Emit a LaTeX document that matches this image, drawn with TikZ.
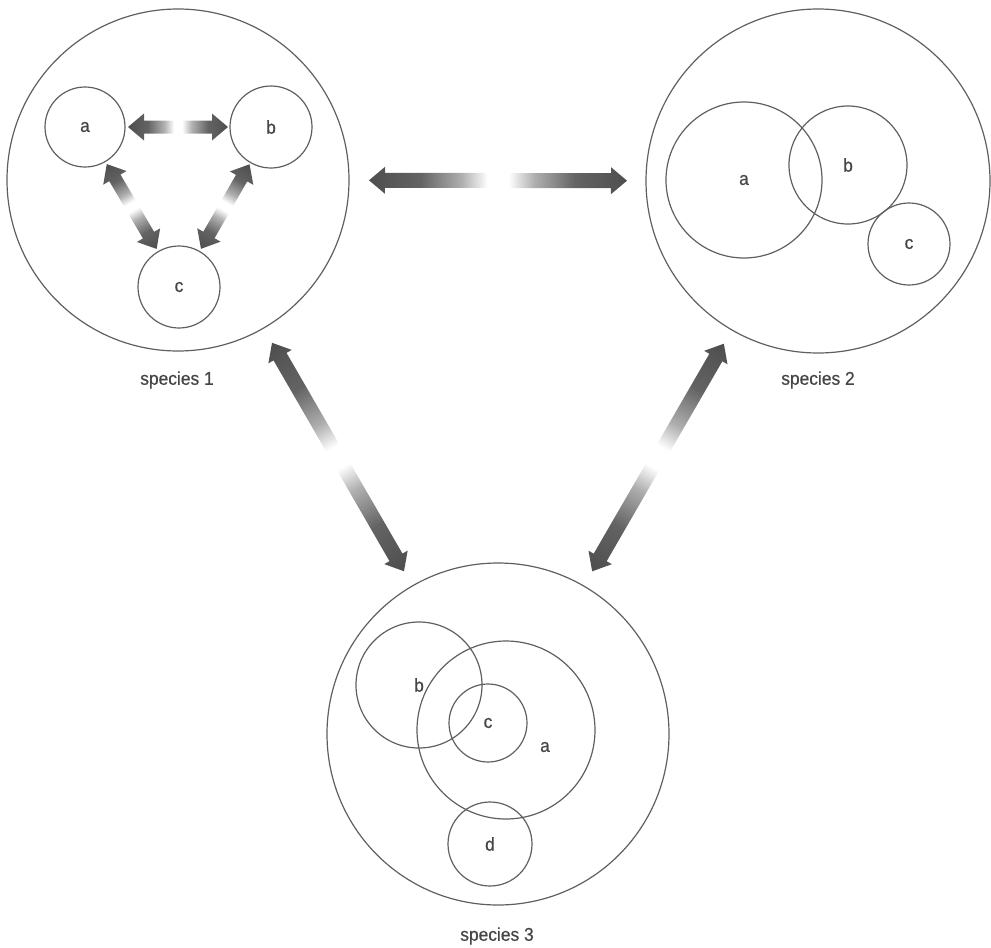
\documentclass[tikz,border=0pt]{standalone}
\usepackage{fontspec}
\setmainfont{Liberation Sans}[FakeBold=0.6,FakeStretch=0.94]
\usetikzlibrary{calc}
\definecolor{adark}{RGB}{78,78,78}
\definecolor{lc}{RGB}{95,95,95}
\definecolor{textc}{RGB}{70,70,70}
\pgfdeclarehorizontalshading{gradarrow}{100bp}{color(0bp)=(adark); color(25bp)=(adark); color(35bp)=(adark!88!white); color(43bp)=(adark!45!white); color(48bp)=(white); color(52bp)=(white); color(57bp)=(adark!45!white); color(65bp)=(adark!88!white); color(75bp)=(adark); color(100bp)=(adark)}
\newcommand\gradarrow[4]{%
  \pgfpointanchor{#1}{center}\pgfgetlastxy{\gax}{\gay}%
  \pgfpointanchor{#2}{center}\pgfgetlastxy{\gbx}{\gby}%
  \pgfmathsetmacro\gang{atan2(\gby-\gay,\gbx-\gax)}%
  \pgfmathsetmacro\glen{veclen(\gbx-\gax,\gby-\gay)}%
  \pgfmathsetmacro\gend{\glen-16}%
  \begin{scope}[transform canvas={shift={(\gax,\gay)},rotate=\gang}]
    \shade[shading=gradarrow] (0,0) -- (16,#4) -- (16,#3) -- (\gend,#3) -- (\gend,#4)
      -- (\glen,0) -- (\gend,-#4) -- (\gend,-#3) -- (16,-#3) -- (16,-#4) -- cycle;
  \end{scope}}
\tikzset{
  ring/.style={circle, draw=lc, line width=1.2pt, inner sep=0pt, text=textc,
    font=\fontsize{18.5}{21}\selectfont},
  txt/.style={inner sep=0pt, text=textc, font=\fontsize{18.5}{21}\selectfont},
}
\begin{document}
\begin{tikzpicture}[x=1pt,y=-1pt]
\useasboundingbox (0,0) rectangle (991,948);
% species 1
\node[ring, minimum size=342pt] (s1) at (178,180) {};
\node[ring, minimum size=80pt] (s1a) at (85,127) {a};
\node[ring, minimum size=82pt] (s1b) at (271,127) {b};
\node[ring, minimum size=82pt] (s1c) at (179,287) {c};
\node[txt] (l1) at (177,380) {species 1};
% species 2
\node[ring, minimum size=344pt] (s2) at (818,181) {};
\node[ring, minimum size=156pt] (s2a) at (744,180) {a};
\node[ring, minimum size=118pt] (s2b) at (848,165) {b};
\node[ring, minimum size=82pt] (s2c) at (909,244) {c};
\node[txt] (l2) at (818,380) {species 2};
% species 3
\node[ring, minimum size=342pt] (s3) at (498,734) {};
\node[ring, minimum size=126pt] (s3b) at (419,685) {b};
\node[ring, minimum size=178pt] (s3a) at (506,730) {};
\node[txt] (s3alab) at (545,747) {a};
\node[ring, minimum size=78pt] (s3c) at (488,723) {c};
\node[ring, minimum size=84pt] (s3d) at (490,844) {d};
\node[txt] (l3) at (497,936) {species 3};
% arrow end points
\coordinate (ab1) at ($(s1a)!43pt!(s1b)$);
\coordinate (ab2) at ($(s1b)!43pt!(s1a)$);
\coordinate (ac1) at ($(s1a)!43pt!(s1c)$);
\coordinate (ac2) at ($(s1c)!44pt!(s1a)$);
\coordinate (bc1) at ($(s1b)!43pt!(s1c)$);
\coordinate (bc2) at ($(s1c)!44pt!(s1b)$);
\coordinate (p12a) at ($(s1)!191pt!(s2)$);
\coordinate (p12b) at ($(s2)!191pt!(s1)$);
\coordinate (p13a) at ($(s1)!188pt!(s3)$);
\coordinate (p13b) at ($(s3)!188pt!(s1)$);
\coordinate (p23a) at ($(s2)!188pt!(s3)$);
\coordinate (p23b) at ($(s3)!188pt!(s2)$);
% arrows
\gradarrow{ab1}{ab2}{6.5}{13.5}
\gradarrow{ac1}{ac2}{6.5}{13.5}
\gradarrow{bc1}{bc2}{6.5}{13.5}
\gradarrow{p12a}{p12b}{7.5}{13.5}
\gradarrow{p13a}{p13b}{7.5}{13.5}
\gradarrow{p23a}{p23b}{7.5}{13.5}
\end{tikzpicture}
\end{document}
